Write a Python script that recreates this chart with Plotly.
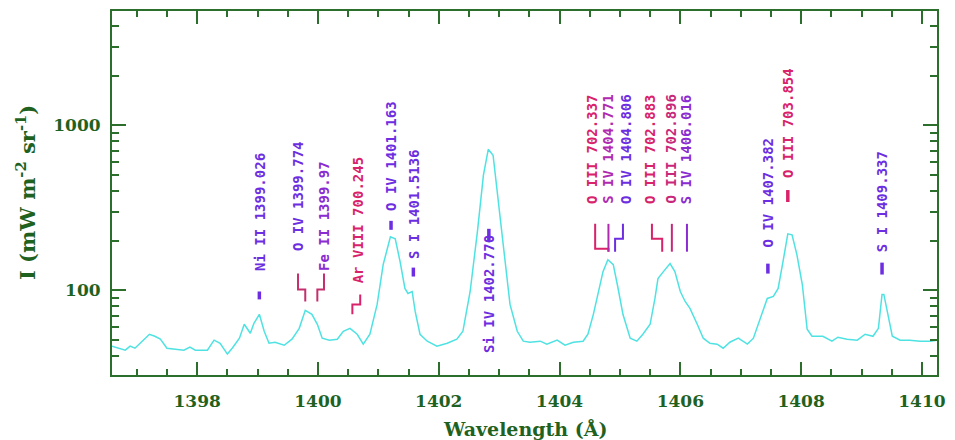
import math
import plotly.graph_objects as go

# ---------------- spectrum ----------------
wavelength_a = [1396.59, 1396.71, 1396.81, 1396.89, 1396.97, 1397.09, 1397.21, 1397.30, 1397.39,
                1397.50, 1397.64, 1397.78, 1397.88, 1397.97, 1398.17, 1398.28, 1398.38, 1398.50,
                1398.58, 1398.70, 1398.78, 1398.83, 1398.88, 1398.94, 1399.03, 1399.11, 1399.19,
                1399.29, 1399.44, 1399.57, 1399.69, 1399.79, 1399.90, 1399.99, 1400.07, 1400.19]
intensity_a = [46.0, 44.7, 43.5, 46.0, 44.7, 49.3, 54.3, 52.8, 50.7,
               44.7, 44.1, 43.5, 45.4, 43.5, 43.5, 50.0, 47.9, 41.2,
               44.7, 51.4, 62.4, 59.0, 55.1, 63.3, 71.7, 56.6, 47.9,
               48.6, 46.6, 50.7, 59.0, 75.8, 71.7, 62.4, 51.4, 50.0]

wavelength_b = [1400.32, 1400.42, 1400.53, 1400.65, 1400.75, 1400.86, 1400.98, 1401.08, 1401.20,
                1401.28, 1401.36, 1401.44, 1401.49, 1401.56, 1401.61, 1401.69, 1401.81, 1401.97,
                1402.14, 1402.30, 1402.40, 1402.52, 1402.64, 1402.74, 1402.82, 1402.90, 1402.98,
                1403.07, 1403.18, 1403.30, 1403.40]
intensity_b = [50.7, 56.6, 59.0, 54.3, 47.3, 54.3, 82.3, 143.4, 211.5,
               205.7, 149.5, 102.8, 95.9, 98.6, 74.7, 54.3, 49.3, 46.0,
               47.9, 50.7, 56.6, 98.6, 226.7, 499.7, 716.8, 659.6, 358.3,
               179.1, 82.3, 56.6, 49.3]

wavelength_c = [1403.51, 1403.68, 1403.79, 1403.96, 1404.09, 1404.23, 1404.39, 1404.47, 1404.56,
                1404.64, 1404.72, 1404.80, 1404.89, 1404.97, 1405.05, 1405.17, 1405.28, 1405.38,
                1405.50, 1405.58, 1405.63, 1405.72, 1405.83, 1405.91, 1406.00, 1406.08, 1406.16,
                1406.28, 1406.38, 1406.49, 1406.61, 1406.71]
intensity_c = [48.6, 49.3, 47.3, 50.0, 46.6, 48.6, 49.3, 54.3, 71.7,
               98.6, 130.1, 153.7, 143.4, 102.8, 71.7, 51.4, 49.3, 54.3,
               62.4, 89.5, 118.1, 130.1, 145.4, 130.1, 98.6, 85.8, 77.9,
               62.4, 51.4, 47.9, 47.3, 44.7]

wavelength_d = [1406.82, 1406.96, 1407.11, 1407.21, 1407.32, 1407.44, 1407.54, 1407.62, 1407.70,
                1407.78, 1407.85, 1407.93, 1408.02, 1408.10, 1408.18, 1408.36, 1408.51, 1408.61,
                1408.76, 1408.93, 1409.06, 1409.19, 1409.28, 1409.34, 1409.37, 1409.42, 1409.51,
                1409.64, 1409.80, 1409.97, 1410.14, 1410.25]
intensity_d = [48.6, 51.4, 47.3, 51.4, 67.8, 89.5, 92.0, 102.8, 149.5,
               220.4, 217.4, 164.8, 108.7, 58.2, 52.8, 52.8, 49.3, 52.1,
               50.7, 50.0, 54.3, 52.8, 59.0, 94.6, 94.6, 77.9, 52.8,
               50.0, 50.0, 49.3, 49.3, 50.0]

wavelength = wavelength_a + wavelength_b + wavelength_c + wavelength_d
intensity = intensity_a + intensity_b + intensity_c + intensity_d
assert len(wavelength) == len(intensity)

# ---------------- line identifications ----------------
line_names = ["Ni II 1399.026", "O IV 1399.774", "Fe II 1399.97", "Ar VIII 700.245",
              "O IV 1401.163", "S I 1401.5136", "Si IV 1402.770", "O III 702.337",
              "S IV 1404.771", "O IV 1404.806", "O III 702.883", "O III 702.896",
              "S IV 1406.016", "O IV 1407.382", "O III 703.854", "S I 1409.337"]

x_ticks = [1398, 1400, 1402, 1404, 1406, 1408, 1410]
y_ticks = [100, 1000]
y_ticktext = ["100", "1000"]
y_minor = [40, 50, 60, 70, 80, 90, 200, 300, 400, 500, 600, 700, 800, 900, 2000, 3000, 4000]

# ---------------- label placement (layout) ----------------
PURPLE = "#6c2ee0"
VIOLET = "#8a2cd0"
MAGENTA = "#b02ab0"
CRIMSON = "#d8226a"

# (label x in Å, bottom of text in intensity, colour)
label_pos = [
    (1399.03, 130.2, PURPLE),
    (1399.66, 171.8, PURPLE),
    (1400.09, 130.2, VIOLET),
    (1400.66, 108.7, CRIMSON),
    (1401.21, 299.2, PURPLE),
    (1401.58, 153.7, PURPLE),
    (1402.83, 41.2, PURPLE),
    (1404.54, 329.7, CRIMSON),
    (1404.80, 329.7, MAGENTA),
    (1405.10, 329.7, PURPLE),
    (1405.50, 329.7, CRIMSON),
    (1405.84, 329.7, "#c8287a"),
    (1406.10, 329.7, VIOLET),
    (1407.45, 179.1, PURPLE),
    (1407.78, 472.9, CRIMSON),
    (1409.34, 167.1, PURPLE),
]

# short dash markers: (x, y_low, y_high, colour)
dashes = [
    (1399.03, 88.3, 98.6, PURPLE),
    (1401.21, 233.1, 264.1, PURPLE),
    (1401.58, 121.5, 137.6, PURPLE),
    (1402.83, 197.3, 236.4, PURPLE),
    (1407.45, 126.6, 145.4, PURPLE),
    (1407.78, 343.6, 405.9, CRIMSON),
    (1409.34, 124.9, 147.5, PURPLE),
]

# bracket connectors: list of (x, y) points, colour
brackets = [
    ([1399.67, 1399.67, 1399.79, 1399.79], [126.6, 101.4, 101.4, 85.8], "#c4306e"),
    ([1400.10, 1400.10, 1399.99, 1399.99], [126.6, 101.4, 101.4, 85.8], "#c4306e"),
    ([1400.70, 1400.70, 1400.57, 1400.57], [94.6, 82.3, 82.3, 71.7], CRIMSON),
    ([1404.59, 1404.59, 1404.81, 1404.81], [253.3, 179.1, 179.1, 171.8], CRIMSON),
    ([1404.81, 1404.81], [253.3, 171.8], MAGENTA),
    ([1405.05, 1405.05, 1404.92, 1404.92], [253.3, 205.7, 205.7, 171.8], PURPLE),
    ([1405.53, 1405.53, 1405.70, 1405.70], [253.3, 205.7, 205.7, 171.8], CRIMSON),
    ([1405.86, 1405.86], [253.3, 171.8], "#c8287a"),
    ([1406.11, 1406.11], [253.3, 171.8], VIOLET),
]

GREEN = "#1f621f"
FRAME = "#2c6e2c"

fig = go.Figure()
fig.add_trace(go.Scatter(x=wavelength, y=intensity, mode="lines",
                         line=dict(color="#4fe2e2", width=1.5),
                         hoverinfo="skip", showlegend=False))

for xs, ys, col in brackets:
    fig.add_trace(go.Scatter(x=xs, y=ys, mode="lines", line=dict(color=col, width=2),
                             hoverinfo="skip", showlegend=False))
for x, y0, y1, col in dashes:
    fig.add_trace(go.Scatter(x=[x, x], y=[y0, y1], mode="lines", line=dict(color=col, width=3.5),
                             hoverinfo="skip", showlegend=False))

for name, (x, ybot, col) in zip(line_names, label_pos):
    fig.add_annotation(x=x, y=math.log10(ybot), xref="x", yref="y", text=name,
                       textangle=-90, xanchor="center", yanchor="bottom", showarrow=False,
                       borderpad=0,
                       font=dict(family="DejaVu Sans Mono", size=14, color=col, weight="bold"))

fig.add_annotation(x=0.5, y=-0.1475, xref="paper", yref="paper", text="Wavelength (Å)",
                   showarrow=False, xanchor="center", yanchor="middle",
                   font=dict(family="DejaVu Serif", size=19, color=GREEN, weight="bold"))
fig.add_annotation(x=-0.1042, y=0.5, xref="paper", yref="paper",
                   text="I (mW m<sup>-2</sup> sr<sup>-1</sup>)", textangle=-90,
                   showarrow=False, xanchor="center", yanchor="middle",
                   font=dict(family="DejaVu Serif", size=21, color=GREEN, weight="bold"))

fig.update_xaxes(range=[1396.59, 1410.25], tickmode="array", tickvals=x_ticks,
                 ticks="inside", ticklen=13, tickwidth=1.5, tickcolor=FRAME,
                 minor=dict(dtick=0.5, tick0=1398, ticks="inside", ticklen=6, tickwidth=1.5, tickcolor=FRAME),
                 showline=True, linewidth=2, linecolor=FRAME, mirror="ticks",
                 showgrid=False, zeroline=False, ticklabelstandoff=10,
                 tickfont=dict(family="DejaVu Serif", size=17, color=GREEN, weight="bold"))
fig.update_yaxes(type="log", range=[1.488, 3.693], tickmode="array", tickvals=y_ticks,
                 ticktext=y_ticktext,
                 ticks="inside", ticklen=14, tickwidth=1.5, tickcolor=FRAME,
                 minor=dict(tickvals=y_minor, ticks="inside", ticklen=7, tickwidth=1.5, tickcolor=FRAME),
                 showline=True, linewidth=2, linecolor=FRAME, mirror="ticks",
                 showgrid=False, zeroline=False, ticklabelstandoff=6,
                 tickfont=dict(family="DejaVu Serif", size=17, color=GREEN, weight="bold"))

# the page body adds an 8 px offset, so the figure is 8 px smaller on each axis
fig.update_layout(width=947, height=432, margin=dict(l=104, r=18, t=1, b=65),
                  paper_bgcolor="white", plot_bgcolor="white", showlegend=False)

fig.write_html("out.html")
